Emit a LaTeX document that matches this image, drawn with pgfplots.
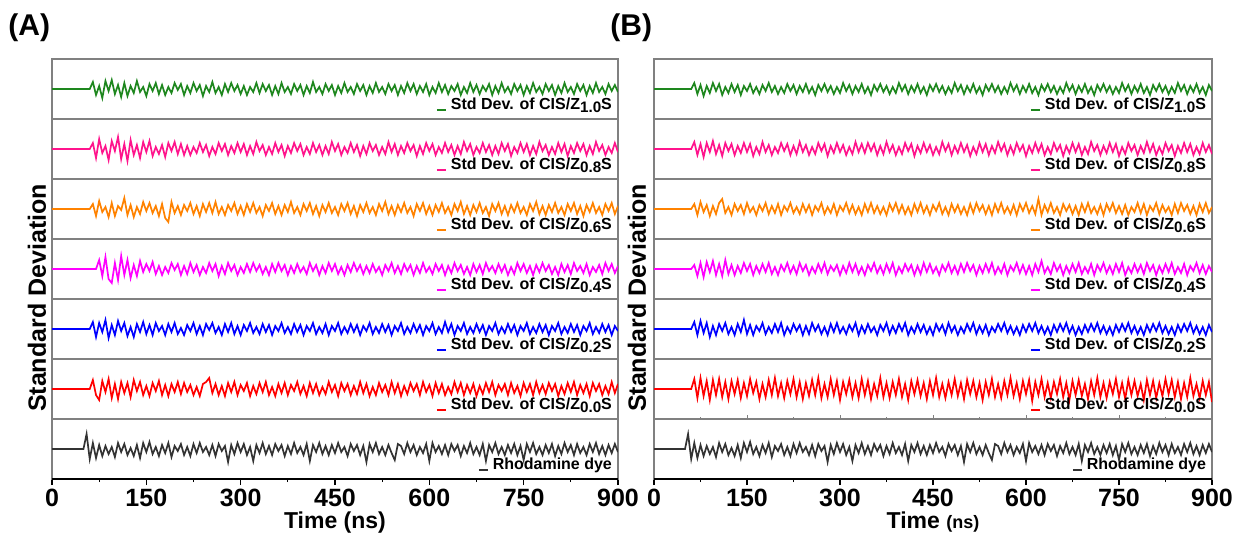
\documentclass[border=0pt]{standalone}
\usepackage{pgfplots}
\pgfplotsset{compat=1.18}
\usepackage{pgfplotstable}
\usepackage{fontspec}
\setmainfont{Liberation Sans}

\definecolor{colG}{RGB}{30,135,30}
\definecolor{colP}{RGB}{255,20,140}
\definecolor{colO}{RGB}{255,130,0}
\definecolor{colM}{RGB}{255,0,255}
\definecolor{colB}{RGB}{0,0,255}
\definecolor{colR}{RGB}{255,0,0}
\definecolor{colK}{RGB}{51,51,51}
\definecolor{framegray}{RGB}{128,128,128}

% panel A: x, green, pink, orange, magenta, blue, red, rhodamine (pixel units, strip = -30..30)
\pgfplotstableread{
x g p o m b r k
0 0 0 0 0 0 0 0
50 0 0 0 0 0 0 0
55 0 0 0 0 0 0 15
60 0 0 0 0 0 0 -10
65 7 6 5 0 7 9 6
70 -6 -9 -7 0 -8 -6 -9
75 3 10 8 9 6 -11 4
80 -9 -4 -3 -7 -3 8 -7
85 8 3 2 12 9 -3 3
90 -2 -11 -8 -10 -9 10 -5
95 9 8 6 -14 4 -9 2
100 -5 -2 -7 6 -6 5 -8
105 4 12 3 -11 8 -10 6
110 -8 -10 -1 13 -2 7 -3
115 6 5 11 -6 6 -4 5
120 -7 -12 -6 9 -7 6 -6
125 3 9 4 -9 2 -8 1
130 -4 -6 -8 4 -8 9 -7
135 8 4 2 -7 5 -2 4
140 -3 -9 -5 8 -3 7 -9
145 2 7 7 -3 7 -6 6
150 -7 -3 -2 5 -5 3 -3
155 5 8 6 -2 4 -7 7
160 -2 -7 -4 7 -6 6 -5
165 6 2 3 -5 6 -2 2
170 -5 -5 -7 3 -2 8 -7
175 4 4 5 -6 3 -6 4
180 -6 -8 -9 2 -6 4 -4
185 2 6 -13 -4 5 -7 6
190 -4 -2 7 6 -3 5 -8
195 6 7 -4 -1 6 -3 3
200 -1 -5 3 5 -5 7 -2
205 5 5 -6 -6 1 -5 5
210 -6 -6 4 3 -6 6 -6
215 3 3 -2 -5 4 -3 2
220 -4 -6 6 6 -2 4 -7
225 6 2 -5 -3 6 -6 5
230 -2 -4 3 4 -5 2 -4
235 4 6 -7 -6 3 -7 6
240 -7 -3 5 2 -6 5 -3
245 3 4 -3 -4 5 7 2
250 -3 -7 6 6 -1 11 -6
255 7 2 -4 -2 6 -4 4
260 -4 -5 7 5 -4 5 -7
265 2 6 -5 -7 2 -6 5
270 -6 -2 2 3 -6 3 -2
275 5 5 -6 -5 5 -7 3
280 -3 -6 4 6 -3 6 -13
285 6 3 -2 -2 6 -3 4
290 -2 -4 6 4 -5 7 -5
295 4 6 -5 -6 3 -6 6
300 -5 -3 3 2 -6 4 -3
305 3 5 -6 -4 4 -2 5
310 -6 -6 5 5 -2 6 -6
315 2 3 -3 -3 6 -7 2
320 -3 -5 6 6 -4 3 -12
325 6 7 -4 -2 2 -5 4
330 -4 -2 2 4 -5 6 -4
335 5 4 -7 -5 5 -3 6
340 -2 -6 4 2 -3 7 -5
345 4 2 -2 -6 4 -6 3
350 -6 -5 6 5 -6 2 -6
355 3 6 -5 -3 3 -7 5
360 -5 -3 3 6 -2 5 -2
365 6 4 -6 -2 6 -4 4
370 -3 -7 4 4 -4 6 -7
375 2 3 -3 -6 2 -6 3
380 -5 -4 7 3 -5 4 -5
385 5 6 -4 -4 5 -2 6
390 -2 -2 2 5 -3 7 -4
395 4 5 -6 -3 4 -5 2
400 -6 -6 5 2 -6 3 -6
405 3 2 -2 -5 3 -7 5
410 -4 -5 6 6 -2 6 -12
415 7 6 -5 -2 6 -4 4
420 -3 -3 3 4 -5 5 -3
425 2 4 -7 -6 2 -6 6
430 -5 -6 4 3 -4 2 -5
435 5 3 -3 -4 5 -5 3
440 -2 -5 6 6 -6 7 -6
445 4 7 -4 -2 3 -3 4
450 -6 -2 2 5 -2 4 -4
455 3 5 -6 -5 6 -7 6
460 -4 -6 5 2 -5 6 -3
465 6 2 -2 -6 2 -2 2
470 -3 -4 6 4 -4 5 -7
475 2 6 -5 -3 5 -6 5
480 -5 -3 3 6 -3 3 -2
485 5 4 -7 -2 4 -5 4
490 -2 -7 4 4 -6 7 -6
495 4 3 -3 -5 3 -4 3
500 -6 -5 6 3 -2 5 -13
505 3 6 -4 -4 6 -7 5
510 -4 -2 2 5 -5 2 -3
515 6 4 -6 -3 2 -6 6
520 -3 -6 5 2 -4 6 -5
525 2 2 -2 -6 5 -3 2
530 -5 -5 7 4 -3 4 -6
535 5 7 -5 -2 4 -6 4
540 -2 -3 3 6 -6 7 -4
545 4 5 -6 -4 3 -4 -11
550 -6 -6 4 3 -2 5 5
555 3 3 -3 -5 6 -7 3
560 -4 -4 6 5 -5 3 -5
565 6 6 -4 -2 2 -5 6
570 -2 -2 2 4 -4 6 -3
575 5 4 -7 -6 5 -2 4
580 -5 -7 5 3 -3 5 -6
585 3 3 -2 -4 4 -6 2
590 -3 -5 6 6 -6 7 -4
595 5 6 -5 -3 3 -3 5
600 -6 -2 3 2 -2 4 -12
605 2 5 -6 -5 6 -7 6
610 -4 -6 4 5 -5 6 -3
615 6 2 -3 -2 2 -4 3
620 -3 -4 6 4 -4 5 -5
625 4 6 -4 -6 7 -6 4
630 -5 -3 2 3 -3 2 -6
635 3 4 -6 -4 5 -5 5
640 -2 -6 5 6 -6 7 -2
645 5 3 -2 -2 3 -3 4
650 -6 -5 7 4 -2 6 -7
655 2 7 -5 -5 6 -6 3
660 -4 -2 3 2 -5 4 -4
665 6 5 -6 -6 2 -4 6
670 -3 -6 4 5 -4 5 -5
675 4 2 -3 -3 5 -7 2
680 -5 -4 6 4 -3 3 -6
685 3 6 -4 -5 4 -5 5
690 -2 -3 2 6 -6 6 -12
695 5 4 -7 -2 3 -3 4
700 -6 -6 5 3 -2 7 -3
705 3 3 -2 -4 6 -6 6
710 -4 -5 6 5 -5 4 -5
715 6 6 -5 -3 2 -2 2
720 -3 -2 3 4 -4 5 -6
725 2 5 -6 -6 5 -6 4
730 -5 -7 4 2 -3 6 -4
735 5 2 -3 -5 4 -4 5
740 -2 -4 6 6 -6 3 -6
745 4 6 -4 -2 3 -7 3
750 -6 -3 2 5 -2 6 -11
755 3 5 -6 -4 6 -3 5
760 -4 -6 5 3 -5 5 -3
765 6 3 -2 -6 2 -6 6
770 -3 -5 7 4 -4 7 -5
775 2 7 -5 -3 5 -4 2
780 -5 -2 3 6 -3 4 -6
785 5 4 -6 -2 4 -5 4
790 -2 -6 4 4 -6 6 -4
795 4 2 -3 -5 3 -2 5
800 -6 -5 6 2 -2 5 -7
805 3 6 -4 -6 6 -7 3
810 -4 -3 2 5 -5 3 -5
815 6 5 -6 -3 2 -5 6
820 -3 -7 5 4 -4 6 -3
825 2 3 -2 -5 5 -3 4
830 -5 -4 6 6 -3 7 -6
835 5 6 -5 -2 4 -6 5
840 -2 -2 3 3 -6 4 -4
845 4 5 -7 -4 3 -4 2
850 -6 -6 4 5 -2 5 -6
855 3 3 -3 -6 6 -7 5
860 -4 -5 6 2 -5 6 -3
865 6 7 -4 -3 2 -2 6
870 -3 -2 2 4 -4 5 -5
875 2 4 -6 -5 5 -6 3
880 -5 -6 5 6 -3 3 -6
885 5 2 -2 -2 4 -5 4
890 -2 -4 6 5 -6 7 -4
895 4 6 -5 -4 3 -4 5
900 -3 -3 3 3 -2 5 -3
}\dataA

% panel B: x, green, pink, orange, magenta, blue, red
\pgfplotstableread{
x g p o m b r
0 0 0 0 0 0 0
60 0 0 0 0 0 0
65 6 7 5 4 7 10
70 -5 -6 -6 -7 -6 -9
75 4 5 7 6 8 11
80 -7 -8 -3 -8 -4 -7
85 3 6 4 7 6 8
90 -4 -3 -7 -3 -8 -11
95 6 8 3 8 3 9
100 -2 -5 -5 -6 -6 -6
105 5 4 6 5 5 10
110 -6 -7 10 -7 -2 -8
115 2 6 -4 9 6 7
120 -4 -2 2 -5 -5 -10
125 5 5 -6 4 2 8
130 -3 -6 5 -6 -6 -5
135 4 3 -2 3 5 9
140 -6 -4 4 -4 -3 -9
145 3 6 -5 6 9 6
150 -2 -3 6 -2 -5 -7
155 5 5 -3 5 4 10
160 -4 -7 2 -6 -6 -4
165 2 2 -6 3 3 7
170 -5 -5 4 -4 -2 -10
175 4 7 -2 5 6 5
180 -2 -3 6 -3 -5 -8
185 6 4 -5 6 2 9
190 -3 -6 3 -5 -4 -6
195 3 2 -4 2 5 11
200 -5 -4 5 -6 -3 -7
205 2 6 -6 4 6 6
210 -4 -2 3 -2 -6 -9
215 5 5 -2 6 2 8
220 -2 -6 6 -4 -4 -5
225 4 3 -4 3 5 10
230 -5 -5 2 -5 -2 -8
235 3 7 -5 6 4 7
240 -3 -3 5 -2 -6 -10
245 5 4 -3 4 3 6
250 -4 -6 4 -6 -5 -7
255 2 2 -6 2 6 9
260 -6 -5 3 -4 -2 -6
265 4 6 -2 5 4 11
270 -2 -2 6 -3 -5 -9
275 5 5 -5 6 2 5
280 -3 -7 2 -5 -6 -8
285 3 3 -4 3 5 10
290 -5 -4 5 -2 -3 -6
295 2 6 -6 4 6 8
300 -4 -3 3 -6 -4 -11
305 6 4 -2 3 2 7
310 -2 -6 6 -4 -5 -5
315 4 2 -4 6 4 9
320 -5 -5 4 -3 -2 -8
325 3 7 -5 5 6 6
330 -3 -3 2 -5 -6 -9
335 5 5 -6 2 3 10
340 -4 -4 5 -6 -4 -6
345 2 6 -3 4 5 8
350 -6 -2 6 -2 -3 -10
355 4 5 -4 6 2 5
360 -2 -6 3 -4 -6 -7
365 5 3 -5 3 4 11
370 -3 -5 2 -5 -2 -8
375 3 7 -6 5 6 6
380 -5 -3 5 -3 -5 -9
385 2 4 -2 6 3 7
390 -4 -6 6 -6 -4 -6
395 6 2 -4 2 5 10
400 -2 -5 4 -4 -2 -8
405 4 6 -5 5 6 5
410 -5 -2 2 -2 -6 -11
415 3 5 -6 4 2 8
420 -3 -7 5 -6 -4 -5
425 5 3 -3 3 5 9
430 -4 -4 6 -5 -3 -7
435 2 6 -4 6 4 6
440 -6 -3 3 -3 -5 -10
445 4 4 -6 5 2 8
450 -2 -6 4 -4 -6 -6
455 5 2 -2 2 5 11
460 -3 -5 6 -6 -2 -8
465 3 7 -5 4 4 5
470 -5 -2 2 -2 -5 -9
475 2 5 -6 6 6 7
480 -4 -6 5 -4 -3 -6
485 6 3 -3 3 3 10
490 -2 -4 4 -5 -6 -7
495 4 6 -5 5 2 6
500 -5 -3 2 -3 -4 -10
505 3 4 -6 6 5 9
510 -3 -7 5 -2 -2 -5
515 5 2 -4 4 6 8
520 -4 -5 6 -6 -5 -8
525 2 6 -2 3 3 6
530 -6 -3 4 -4 -4 -11
535 4 5 -5 5 4 7
540 -2 -6 3 -3 -6 -6
545 5 3 -6 6 2 10
550 -3 -4 5 -5 -3 -8
555 3 7 -3 2 5 5
560 -5 -2 6 -4 -2 -9
565 2 5 -4 5 6 8
570 -4 -6 2 -6 -4 -6
575 6 3 -5 3 3 11
580 -2 -5 4 -2 -5 -7
585 4 6 -6 6 2 6
590 -5 -2 5 -4 -6 -10
595 3 4 -2 4 4 8
600 -3 -7 6 -5 -3 -5
605 5 3 -4 3 5 9
610 -4 -4 3 -6 -2 -12
615 2 6 -5 5 6 7
620 -6 -3 10 -3 -4 -6
625 4 5 -6 8 3 10
630 -2 -6 4 -4 -5 -8
635 5 2 -3 2 2 6
640 -3 -5 6 -5 -6 -9
645 3 6 -4 6 4 7
650 -5 -2 2 -2 -3 -5
655 2 4 -6 4 5 10
660 -4 -7 5 -6 -2 -8
665 6 3 -2 3 6 6
670 -2 -4 4 -4 -4 -11
675 4 6 -5 5 3 8
680 -5 -3 3 -3 -6 -6
685 3 5 -6 6 2 9
690 -3 -6 5 -5 -5 -7
695 5 2 -3 2 4 5
700 -4 -5 6 -4 -3 -10
705 2 7 -4 5 5 8
710 -6 -2 2 -6 -2 -6
715 4 4 -5 4 6 11
720 -2 -6 4 -2 -4 -8
725 5 3 -6 6 3 6
730 -3 -4 5 -4 -5 -9
735 3 6 -2 3 2 7
740 -5 -3 6 -5 -6 -5
745 2 5 -4 5 4 10
750 -4 -7 3 -3 -3 -8
755 6 2 -5 6 5 6
760 -2 -5 4 -6 -2 -10
765 4 6 -6 2 6 9
770 -5 -2 2 -4 -4 -6
775 3 4 -3 5 3 8
780 -3 -6 6 -3 -5 -7
785 5 3 -4 4 2 5
790 -4 -4 5 -5 -6 -11
795 2 7 -6 6 4 9
800 -6 -3 3 -2 -3 -6
805 4 5 -2 4 5 8
810 -2 -6 6 -6 -2 -9
815 5 2 -5 3 6 6
820 -3 -5 4 -4 -4 -7
825 3 6 -3 5 3 10
830 -5 -2 2 -3 -5 -5
835 2 4 -6 6 2 9
840 -4 -7 5 -5 -6 -8
845 6 3 -4 2 4 7
850 -2 -4 6 -4 -3 -10
855 4 6 -2 5 5 6
860 -5 -3 4 -6 -2 -8
865 3 5 -5 3 6 11
870 -3 -6 3 -2 -4 -7
875 5 2 -6 6 3 5
880 -4 -5 5 -4 -5 -9
885 2 6 -3 4 2 8
890 -6 -3 6 -5 -6 -6
895 4 4 -4 3 4 7
900 -2 -5 2 -3 -3 -13
}\dataB

\newcommand{\cis}[1]{Std Dev. of CIS/Z\raisebox{-0.4ex}{\fontsize{7.6}{8}\selectfont #1}S}

\pgfplotsset{
  strip/.style={
    scale only axis, height=30pt,
    xmin=0, xmax=900, ymin=-30, ymax=30,
    xtick=\empty, ytick=\empty,
    axis line style={draw=framegray, line width=0.6pt},
    legend style={draw=none, fill=none, at={(rel axis cs:0.997,0.04)}, anchor=south east,
      inner sep=0pt, font=\bfseries\fontsize{8}{8}\selectfont},
    legend image code/.code={\draw[#1, line width=1pt] (0pt,-2.6pt) -- (4.5pt,-2.6pt);},
  },
  bottomstrip/.style={
    xtick={0,150,...,900}, minor x tick num=1, tick align=outside, xtick pos=bottom,
    major tick length=3pt, minor tick length=1.6pt, tick style={black, line width=0.6pt},
    /pgf/number format/assume math mode=true,
    xticklabel style={font=\bfseries\fontsize{12.5}{12.5}\selectfont, yshift=1.5pt},
    xlabel style={font=\bfseries\fontsize{11.5}{12}\selectfont, yshift=4.5pt},
    after end axis/.code={\draw[black, line width=0.7pt] (rel axis cs:0,0) -- (rel axis cs:1,0);},
  },
}

% #1 x, #2 y, #3 width, #4 table, #5 column, #6 colour, #7 legend, #8 extra options
\newcommand{\strip}[8]{%
\begin{axis}[strip, width=#3, at={(#1,#2)}, anchor=north west, #8]
\addplot[#6, line width=0.85pt] table[x=x, y=#5] {#4};
\addlegendentry{#7}
\end{axis}}

\begin{document}
\begin{tikzpicture}
\useasboundingbox (0,0) rectangle (618pt,-266.5pt);

% panel A
\strip{26pt}{-29.5pt}{283pt}{\dataA}{g}{colG}{\cis{1.0}}{}
\strip{26pt}{-59.5pt}{283pt}{\dataA}{p}{colP}{\cis{0.8}}{}
\strip{26pt}{-89.5pt}{283pt}{\dataA}{o}{colO}{\cis{0.6}}{}
\strip{26pt}{-119.5pt}{283pt}{\dataA}{m}{colM}{\cis{0.4}}{}
\strip{26pt}{-149.5pt}{283pt}{\dataA}{b}{colB}{\cis{0.2}}{}
\strip{26pt}{-179.5pt}{283pt}{\dataA}{r}{colR}{\cis{0.0}}{}
\strip{26pt}{-209.5pt}{283pt}{\dataA}{k}{colK}{Rhodamine dye}{bottomstrip, xlabel={Time (ns)}}

% panel B
\strip{327pt}{-29.5pt}{279pt}{\dataB}{g}{colG}{\cis{1.0}}{}
\strip{327pt}{-59.5pt}{279pt}{\dataB}{p}{colP}{\cis{0.8}}{}
\strip{327pt}{-89.5pt}{279pt}{\dataB}{o}{colO}{\cis{0.6}}{}
\strip{327pt}{-119.5pt}{279pt}{\dataB}{m}{colM}{\cis{0.4}}{}
\strip{327pt}{-149.5pt}{279pt}{\dataB}{b}{colB}{\cis{0.2}}{}
\strip{327pt}{-179.5pt}{279pt}{\dataB}{r}{colR}{\cis{0.0}}{xtick={0,150,...,900}, minor x tick num=1, xtick pos=bottom, tick align=inside, xticklabels={}, major tick length=2pt, minor tick length=1pt, tick style={framegray}}
\strip{327pt}{-209.5pt}{279pt}{\dataA}{k}{colK}{Rhodamine dye}{bottomstrip, xlabel={Time {\fontsize{9}{9}\selectfont(ns)}}}

% panel letters and y labels
\node[anchor=west, inner sep=0pt, font=\bfseries\fontsize{15}{15}\selectfont] at (4pt,-14pt) {(A)};
\node[anchor=west, inner sep=0pt, font=\bfseries\fontsize{15}{15}\selectfont] at (305pt,-14pt) {(B)};
\node[rotate=90, font=\bfseries\fontsize{12.5}{12.5}\selectfont] at (18.5pt,-149pt) {Standard Deviation};
\node[rotate=90, font=\bfseries\fontsize{12.5}{12.5}\selectfont] at (318.5pt,-149pt) {Standard Deviation};
\end{tikzpicture}
\end{document}
